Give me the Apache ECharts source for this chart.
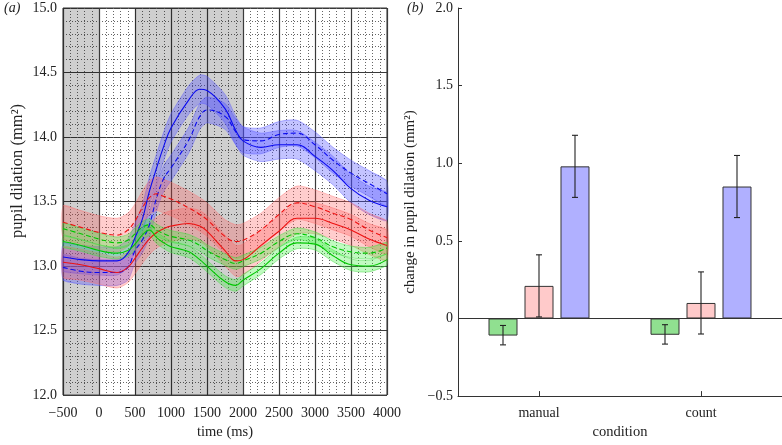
<!DOCTYPE html>
<html>
<head>
<meta charset="utf-8">
<script src="https://cdn.jsdelivr.net/npm/echarts@6/dist/echarts.min.js"></script>
<style>html,body{margin:0;padding:0;background:#fff;}#c{width:782px;height:445px;}</style>
</head>
<body>
<div id="c"></div>
<script>
// ---- panel (a) data ----
const times = [-500,-250,0,250,400,500,600,700,800,900,1000,1250,1400,1500,1750,1900,2000,2250,2500,2750,3000,3250,3500,3750,4000];
const blueSolid  = [13.07,13.05,13.04,13.04,13.10,13.22,13.36,13.58,13.76,13.93,14.07,14.29,14.37,14.36,14.22,14.05,13.97,13.92,13.94,13.94,13.85,13.74,13.60,13.51,13.46];
const blueDashed = [12.99,12.96,12.95,12.95,12.99,13.12,13.20,13.32,13.53,13.68,13.76,13.98,14.16,14.21,14.16,14.04,13.98,13.97,14.02,14.03,13.94,13.82,13.72,13.64,13.56];
const redSolid   = [13.03,13.01,12.98,12.95,12.99,13.06,13.14,13.21,13.26,13.29,13.31,13.33,13.31,13.27,13.12,13.04,13.05,13.16,13.27,13.37,13.37,13.33,13.28,13.21,13.16];
const redDashed  = [13.34,13.30,13.26,13.24,13.28,13.35,13.45,13.53,13.56,13.54,13.52,13.45,13.40,13.36,13.23,13.19,13.20,13.28,13.40,13.49,13.46,13.41,13.36,13.28,13.22];
const greenSolid = [13.19,13.16,13.12,13.10,13.12,13.17,13.24,13.28,13.22,13.18,13.15,13.11,13.05,13.00,12.88,12.85,12.89,12.98,13.10,13.18,13.17,13.08,13.01,13.00,13.05];
const greenDashed= [13.29,13.25,13.21,13.18,13.20,13.25,13.30,13.32,13.28,13.25,13.23,13.20,13.16,13.12,13.05,13.02,13.04,13.10,13.19,13.25,13.22,13.15,13.11,13.10,13.14];
// estimated half-width of each shaded band (mm^2)
const bandHalfWidth = {blueSolid:0.11, blueDashed:0.10, redSolid:0.12, redDashed:0.13, greenSolid:0.045, greenDashed:0.045};
const shadedPeriods = [[-500,0],[500,2000]];
const timeTicks = {min:-500, max:4000, step:500};
const dilationTicks = {min:12, max:15, step:0.5};

// ---- panel (b) data ----
const conditions = ['manual','count'];
const greenMean = [-0.11,-0.105], greenLo = [-0.17,-0.165], greenHi = [-0.045,-0.04];
const pinkMean  = [0.21,0.10],    pinkLo  = [0.01,-0.10],   pinkHi  = [0.41,0.30];
const blueMean  = [0.98,0.85],    blueLo  = [0.78,0.65],    blueHi  = [1.18,1.05];
const changeTicks = {min:-0.5, max:2, step:0.5};

const FONT = 'Liberation Serif';
const minus = s => String(s).replace('-', '\u2212');

function pairs(arr){ return times.map((t,i)=>[t, arr[i]]); }

const series = [];

// gray shaded periods (semi-transparent so the grid shows through)
series.push({
  type:'custom', xAxisIndex:0, yAxisIndex:0, silent:true, z:1,
  data: shadedPeriods,
  renderItem:function(params, api){
    const a = api.coord([api.value(0), dilationTicks.max]);
    const b = api.coord([api.value(1), dilationTicks.min]);
    return {type:'rect', shape:{x:a[0], y:a[1], width:b[0]-a[0], height:b[1]-a[1]},
      style:{fill:'rgba(0,0,0,0.19)'}};
  }
});

function addBand(key, vals, lineColor, fill, edge, dashed){
  const hw = bandHalfWidth[key];
  series.push({
    type:'custom', xAxisIndex:0, yAxisIndex:0, silent:true, z:2,
    data:[[times[0], vals[0]]],
    renderItem:function(params, api){
      const up = times.map((t,i)=>api.coord([t, vals[i]+hw]));
      const dn = times.map((t,i)=>api.coord([t, vals[i]-hw]));
      return {type:'group', children:[
        {type:'polygon', shape:{points: up.concat(dn.slice().reverse()), smooth:0.25},
          style:{fill:fill, stroke:null}},
        {type:'polyline', shape:{points:up, smooth:0.25}, style:{fill:null, stroke:edge, lineWidth:0.8}},
        {type:'polyline', shape:{points:dn, smooth:0.25}, style:{fill:null, stroke:edge, lineWidth:0.8}}
      ]};
    }
  });
  series.push({
    type:'line', xAxisIndex:0, yAxisIndex:0, data:pairs(vals),
    symbol:'none', smooth:0.4, silent:true,
    lineStyle:{color:lineColor, width:1.1, type: dashed ? [5,3] : 'solid'}, z:4
  });
}
addBand('blueSolid', blueSolid, '#0a0af0', 'rgba(80,80,255,0.34)', 'rgba(90,90,255,0.55)', false);
addBand('blueDashed', blueDashed, '#0a0af0', 'rgba(80,80,255,0.34)', 'rgba(90,90,255,0.55)', true);
addBand('redSolid', redSolid, '#ee1111', 'rgba(255,90,90,0.30)', 'rgba(255,110,110,0.5)', false);
addBand('redDashed', redDashed, '#ee1111', 'rgba(255,90,90,0.30)', 'rgba(255,110,110,0.5)', true);
addBand('greenSolid', greenSolid, '#00c800', 'rgba(60,240,60,0.32)', 'rgba(70,220,70,0.6)', false);
addBand('greenDashed', greenDashed, '#00c800', 'rgba(60,240,60,0.32)', 'rgba(70,220,70,0.6)', true);

// bars
const BAR_W = 29, BAR_GAP = 7;
function barSeries(name, mean, color, withZero){
  const s = {type:'bar', name, xAxisIndex:1, yAxisIndex:1, data:mean, barWidth:BAR_W, barGap:(BAR_GAP/BAR_W*100).toFixed(1)+'%',
    itemStyle:{color, borderColor:'#333', borderWidth:1}, silent:true, z:3};
  if(withZero){
    s.markLine = {silent:true, symbol:'none', label:{show:false}, lineStyle:{color:'#333', width:1, type:'solid'},
      data:[{yAxis:0}]};
  }
  return s;
}
series.push(barSeries('green', greenMean, '#90e090', true));
series.push(barSeries('pink', pinkMean, '#ffcaca', false));
series.push(barSeries('blue', blueMean, '#b0b0ff', false));

function errSeries(lo, hi, slot){
  return {type:'custom', xAxisIndex:1, yAxisIndex:1, silent:true, z:5,
    data: conditions.map((c,i)=>[i, lo[i], hi[i]]),
    renderItem:function(params, api){
      const off = slot*(BAR_W+BAR_GAP);
      const a = api.coord([api.value(0), api.value(1)]);
      const b = api.coord([api.value(0), api.value(2)]);
      const x = a[0]+off, cap = 3;
      const st = {stroke:'#222', lineWidth:1.1};
      return {type:'group', children:[
        {type:'line', shape:{x1:x,y1:a[1],x2:x,y2:b[1]}, style:st},
        {type:'line', shape:{x1:x-cap,y1:a[1],x2:x+cap,y2:a[1]}, style:st},
        {type:'line', shape:{x1:x-cap,y1:b[1],x2:x+cap,y2:b[1]}, style:st}
      ]};
    }};
}
series.push(errSeries(greenLo, greenHi, -1));
series.push(errSeries(pinkLo, pinkHi, 0));
series.push(errSeries(blueLo, blueHi, 1));

const labelStyle = {fontFamily:FONT, fontSize:14, color:'#222'};
const nameStyle = {fontFamily:FONT, fontSize:14.5, color:'#222'};

const option = {
  animation:false,
  backgroundColor:'#fff',
  grid:[
    {left:63, top:8, width:324, height:394, show:true, borderColor:'#333', borderWidth:1, backgroundColor:'#fff', containLabel:false},
    {left:458, top:8, width:325, height:394, containLabel:false}
  ],
  xAxis:[
    {type:'value', gridIndex:0, min:timeTicks.min, max:timeTicks.max, interval:timeTicks.step,
      name:'time (ms)', nameLocation:'middle', nameGap:29, nameTextStyle:nameStyle,
      axisLine:{show:false}, axisTick:{show:false},
      axisLabel:Object.assign({margin:11, formatter:v=>minus(v)}, labelStyle),
      splitLine:{show:true, lineStyle:{color:'#3a3a3a', width:1.2}},
      minorTick:{show:false, splitNumber:5},
      minorSplitLine:{show:true, lineStyle:{color:'#666', width:1, type:[1,2]}}},
    {type:'category', gridIndex:1, data:conditions,
      name:'condition', nameLocation:'middle', nameGap:27, nameTextStyle:nameStyle,
      axisLine:{show:true, onZero:false, lineStyle:{color:'#333'}},
      axisTick:{show:true, inside:true, alignWithLabel:true, length:5, lineStyle:{color:'#333'}},
      axisLabel:Object.assign({margin:10}, labelStyle),
      splitLine:{show:false}}
  ],
  yAxis:[
    {type:'value', gridIndex:0, min:dilationTicks.min, max:dilationTicks.max, interval:dilationTicks.step,
      axisLine:{show:false}, axisTick:{show:false},
      axisLabel:Object.assign({margin:6, formatter:v=>v.toFixed(1)}, labelStyle),
      splitLine:{show:true, lineStyle:{color:'#3a3a3a', width:1.2}},
      minorTick:{show:false, splitNumber:5},
      minorSplitLine:{show:true, lineStyle:{color:'#666', width:1, type:[1,2]}}},
    {type:'value', gridIndex:1, min:changeTicks.min, max:changeTicks.max, interval:changeTicks.step,
      name:'change in pupil dilation (mm\u00b2)', nameLocation:'middle', nameGap:40, nameTextStyle:Object.assign({}, nameStyle, {fontSize:15}),
      axisLine:{show:true, lineStyle:{color:'#333'}},
      axisTick:{show:true, inside:true, length:4, lineStyle:{color:'#333'}},
      axisLabel:Object.assign({margin:5, formatter:v=> v===0 ? '0' : minus(v.toFixed(1))}, labelStyle),
      splitLine:{show:false}}
  ],
  graphic:[
    {type:'text', left:4, top:1, style:{text:'(a)', font:'italic 14px "Liberation Serif"', fill:'#222'}},
    {type:'text', left:407, top:1, style:{text:'(b)', font:'italic 14px "Liberation Serif"', fill:'#222'}},
    {type:'text', x:18, y:171, rotation:Math.PI/2,
      style:{text:'pupil dilation (mm\u00b2)', font:'16.5px "Liberation Serif"', fill:'#222', align:'center', verticalAlign:'middle'}}
  ],
  series
};
echarts.init(document.getElementById('c'), null, {renderer:'canvas'}).setOption(option);
</script>
</body>
</html>
